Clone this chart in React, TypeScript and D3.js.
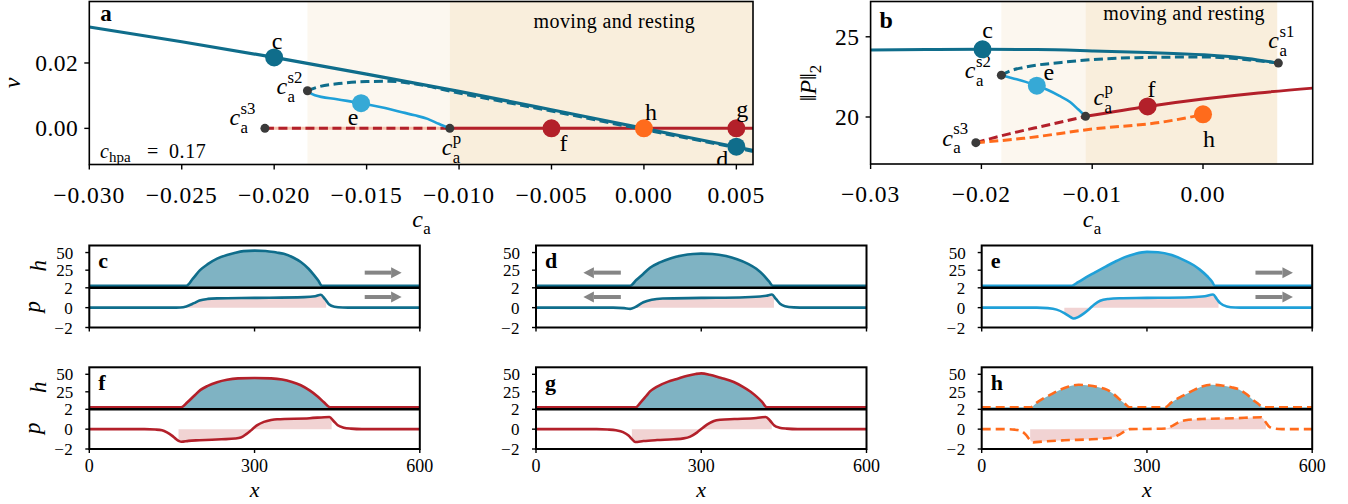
import * as d3 from 'd3'

type Pt = [number, number]

// ---------- panel a: drift velocity v against c_a ----------
const aXDomain: Pt = [-0.03, 0.0059]
const aYDomain: Pt = [-0.01105, 0.0388]
const aXTicks = [-0.03, -0.025, -0.02, -0.015, -0.01, -0.005, 0, 0.005]
const aYTicks = [0, 0.02]
const aShadeLight: Pt = [-0.0182, -0.0105]
const aShadeDark: Pt = [-0.0105, 0.0059]

const aMoving: Pt[] = [
  [-0.03, 0.031], [-0.025, 0.0265], [-0.02, 0.0217], [-0.015, 0.0166], [-0.01, 0.0113],
  [-0.005, 0.0057], [0, 0.0], [0.005, -0.0057], [0.0059, -0.0067],
]
const aMovingUnstable: Pt[] = [
  [-0.0182, 0.0115], [-0.0176, 0.0127], [-0.0165, 0.0137], [-0.015, 0.0143], [-0.0138, 0.0144],
  [-0.0125, 0.0137], [-0.01, 0.0108], [-0.005, 0.0053], [0, -0.0004], [0.005, -0.006], [0.0059, -0.0071],
]
const aAsym: Pt[] = [
  [-0.0182, 0.0113], [-0.0178, 0.0101], [-0.0166, 0.0089], [-0.0153, 0.0077], [-0.014, 0.0062],
  [-0.0132, 0.0051], [-0.0124, 0.004], [-0.0117, 0.0029], [-0.0111, 0.0014], [-0.0105, 0],
]
const aTwoDrop: Pt[] = [[-0.0205, 0], [0, 0]]
const aRestUnstable: Pt[] = [[-0.0205, 0], [-0.0105, 0]]
const aRestStable: Pt[] = [[-0.0105, 0], [0.0059, 0]]

const aMarkers: [string, number, number][] = [
  ['c', -0.02, 0.0217], ['e', -0.0153, 0.0077], ['f', -0.005, 0], ['h', 0, 0], ['g', 0.005, 0], ['d', 0.005, -0.0056],
]
const aBifPoints: [string, number, number][] = [['s2', -0.0182, 0.0115], ['s3', -0.0205, 0], ['p', -0.0105, 0]]

// ---------- panel b: ||P||_2 against c_a ----------
const bXDomain: Pt = [-0.03, 0.0099]
const bYDomain: Pt = [17.07, 27.2]
const bXTicks = [-0.03, -0.02, -0.01, 0]
const bYTicks = [20, 25]
const bShadeLight: Pt = [-0.0182, -0.0106]
const bShadeDark: Pt = [-0.0106, 0.0067]

const bMoving: Pt[] = [
  [-0.03, 24.17], [-0.025, 24.2], [-0.02, 24.22], [-0.015, 24.2], [-0.01, 24.12],
  [-0.005, 24.02], [0, 23.88], [0.004, 23.65], [0.0068, 23.36],
]
const bMovingUnstable: Pt[] = [
  [-0.0182, 22.61], [-0.0175, 22.85], [-0.0162, 23.09], [-0.0128, 23.4], [-0.006, 23.7],
  [0, 23.74], [0.0042, 23.56], [0.0068, 23.36],
]
const bAsym: Pt[] = [
  [-0.0182, 22.61], [-0.0172, 22.42], [-0.016, 22.19], [-0.015, 21.95], [-0.014, 21.68],
  [-0.013, 21.33], [-0.012, 20.93], [-0.0113, 20.5], [-0.0106, 20.04],
]
const bRestStable: Pt[] = [[-0.0106, 20.04], [-0.005, 20.66], [0, 21.12], [0.005, 21.5], [0.0099, 21.8]]
const bRestUnstable: Pt[] = [[-0.0205, 18.4], [-0.0175, 18.95], [-0.014, 19.5], [-0.0106, 20.04]]
const bTwoDrop: Pt[] = [[-0.0205, 18.4], [-0.0162, 18.67], [-0.01, 19.25], [-0.0039, 19.66], [0, 20.15]]

const bMarkers: [string, number, number][] = [['c', -0.0199, 24.22], ['e', -0.015, 21.95], ['f', -0.005, 20.66], ['h', 0, 20.17]]
const bBifPoints: [string, number, number][] = [['s1', 0.0068, 23.36], ['s2', -0.0182, 22.61], ['p', -0.0106, 20.04], ['s3', -0.0205, 18.4]]

// ---------- profiles c-h: height h(x) and polarisation p(x) ----------
const profXTicks = [0, 300, 600]
const profHTicks = [25, 50]
const profPTicks = [-2, 0, 2]

const hC: Pt[] = [[0, 3], [176, 3], [188, 13], [201, 25], [215, 33.5], [232, 41.3], [250, 46.5], [262, 49], [280, 52], [300, 52.8], [320, 52.3], [340, 50], [353, 48.2], [370, 43], [384, 36.5], [398, 27], [408, 18], [416, 10], [422, 3], [600, 3]]
const pC: Pt[] = [[0, 0], [150, 0], [165, 0.02], [176, 0.12], [190, 0.45], [200, 0.72], [215, 0.88], [232, 0.93], [300, 0.98], [390, 1.06], [410, 1.15], [420, 1.3], [428, 0.85], [435, 0.35], [445, 0.1], [460, 0.02], [480, 0], [600, 0]]

const hD: Pt[] = [[0, 3], [171, 3], [182, 11], [195, 20], [207, 28.5], [225, 36], [245, 42], [265, 45.8], [285, 48], [300, 48.5], [320, 48], [345, 45], [365, 40.5], [385, 34], [400, 27], [413, 18], [423, 9], [430, 3], [600, 3]]
const pD: Pt[] = [[0, 0], [140, 0], [160, -0.05], [171, -0.12], [180, 0.05], [195, 0.55], [210, 0.8], [230, 0.92], [300, 0.98], [380, 1.05], [418, 1.2], [428, 1.32], [436, 0.85], [443, 0.4], [452, 0.15], [468, 0.03], [490, 0], [600, 0]]

const hE: Pt[] = [[0, 3], [164, 3], [175, 8], [190, 15], [205, 21.5], [225, 30], [242, 37], [260, 43.5], [278, 48], [300, 51], [320, 50.5], [345, 46.5], [368, 39], [385, 32], [396, 25.8], [410, 16], [418, 9], [423, 3], [600, 3]]
const pE: Pt[] = [[0, 0], [100, 0], [120, -0.05], [136, -0.2], [150, -0.55], [160, -0.9], [167, -1.1], [175, -0.95], [185, -0.6], [195, -0.15], [205, 0.35], [215, 0.7], [230, 0.88], [250, 0.95], [300, 0.98], [380, 1.05], [405, 1.15], [420, 1.32], [427, 0.85], [433, 0.45], [445, 0.12], [460, 0.02], [480, 0], [600, 0]]

const hF: Pt[] = [[0, 3], [167, 3], [178, 10], [190, 19], [202, 27.7], [215, 33.5], [232, 38.8], [250, 42.3], [270, 44.2], [300, 44.8], [330, 44.2], [350, 42.5], [368, 39], [384, 34.4], [400, 27], [414, 18.7], [426, 10], [437, 3], [600, 3]]
const pF: Pt[] = [[0, 0], [100, 0], [120, -0.04], [132, -0.12], [141, -0.33], [150, -0.65], [156, -0.93], [163, -1.2], [167, -1.27], [180, -1.18], [200, -1.12], [240, -1.02], [265, -0.95], [275, -0.85], [285, -0.5], [295, -0.05], [305, 0.4], [317, 0.73], [330, 0.92], [341, 1.0], [400, 1.1], [436, 1.23], [443, 0.85], [451, 0.4], [462, 0.15], [475, 0.05], [495, 0], [600, 0]]

const hG: Pt[] = [[0, 3], [181, 3], [190, 10], [200, 19], [207, 25.5], [220, 32.5], [240, 39.5], [256, 43.4], [275, 48], [290, 50.5], [300, 51.3], [315, 49.5], [335, 45], [359, 39], [375, 32.5], [389, 25.5], [400, 18.5], [410, 11], [419, 3], [600, 3]]
const pG: Pt[] = [[0, 0], [110, 0], [130, -0.04], [145, -0.12], [158, -0.3], [168, -0.65], [175, -1.05], [180, -1.3], [195, -1.2], [220, -1.1], [250, -1.02], [268, -0.93], [280, -0.75], [292, -0.35], [305, 0.23], [315, 0.6], [323, 0.83], [335, 0.95], [360, 1.02], [400, 1.12], [417, 1.23], [425, 0.85], [432, 0.4], [442, 0.15], [455, 0.05], [475, 0], [600, 0]]

const hH: Pt[] = [[0, 3], [89, 3], [100, 9.5], [112, 15.5], [124, 20.5], [140, 27], [158, 32.5], [176, 35], [195, 34], [212, 31.5], [227, 28], [240, 21.5], [251, 13.7], [260, 8], [268, 3], [333, 3], [344, 9.5], [356, 15.5], [368, 20.5], [384, 27], [400, 32.5], [417, 35], [436, 34], [453, 31.5], [468, 28], [481, 21.5], [492, 13.7], [502, 8], [510, 3], [600, 3]]
const pH: Pt[] = [[0, 0], [45, 0], [60, -0.05], [72, -0.2], [80, -0.55], [87, -1.05], [94, -1.33], [110, -1.25], [150, -1.12], [200, -1.02], [238, -0.85], [250, -0.55], [260, -0.2], [269, 0], [300, 0.02], [335, 0.07], [345, 0.3], [353, 0.55], [359, 0.73], [370, 0.9], [400, 1.02], [460, 1.1], [508, 1.2], [515, 0.75], [522, 0.25], [530, 0.08], [545, 0], [600, 0]]

// x-range of the shaded p area and arrow (from, to) in x units
const pinkC: Pt = [176, 430]
const pinkD: Pt = [172, 432]
const pinkE: Pt = [150, 430]
const pinkF: Pt = [162, 440]
const pinkG: Pt = [174, 428]
const pinkH: Pt = [88, 516]
const arrowC: Pt = [500, 567]
const arrowD: Pt = [154, 86]
const arrowE: Pt = [497, 565]

// ---------- styling ----------
const SERIF = '"Liberation Serif", "Times New Roman", serif'
const BLUE = '#0f6d8b'
const LIGHTBLUE = '#1fa0d8'
const LIGHTBLUE_MK = '#36a9d6'
const RED = '#b3202a'
const ORANGE = '#ff6b1c'
const DOT = '#3a3a3a'
const SHADE_L = '#fcf7ef'
const SHADE_D = '#f9eedc'
const H_FILL = '#7fb3c3'
const P_FILL = '#f1d3d3'
const ARROW = '#858585'

const A = { left: 89.3, right: 753, top: 1.5, bottom: 164.5 }
const B = { left: 870.6, right: 1312.7, top: 1.5, bottom: 164 }
const colLeft = [89.3, 536, 981.7]
const colW = 330.5
const rows = [
  { top: 245.5, mid: 287.8, bottom: 327.5 },
  { top: 367.3, mid: 409.3, bottom: 449 },
]

const minus = (s: string) => s.replace('-', '\u2212')
const fmt3 = (d: number) => minus(Math.abs(d) < 1e-12 ? '0.000' : d.toFixed(3))
const fmt2 = (d: number) => minus(Math.abs(d) < 1e-12 ? '0.00' : d.toFixed(2))

function CaLabel({ x, y, sup, size = 24 }: { x: number; y: number; sup?: string; size?: number }) {
  const s = size * 0.7
  return (
    <g fontFamily={SERIF} fill="#000">
      <text x={x} y={y} fontSize={size} fontStyle="italic">c</text>
      {sup && <text x={x + size * 0.46} y={y - size * 0.48} fontSize={s}>{sup}</text>}
      <text x={x + size * 0.46} y={y + size * 0.31} fontSize={s}>a</text>
    </g>
  )
}

function BifPanel(props: {
  box: typeof A
  xDomain: Pt
  yDomain: Pt
  xTicks: number[]
  yTicks: number[]
  xFmt: (d: number) => string
  yFmt: (d: number) => string
  id: string
  children: (x: d3.ScaleLinear<number, number>, y: d3.ScaleLinear<number, number>) => React.ReactNode
}) {
  const { box, id } = props
  const x = d3.scaleLinear().domain(props.xDomain).range([box.left, box.right])
  const y = d3.scaleLinear().domain(props.yDomain).range([box.bottom, box.top])
  return (
    <g>
      <defs>
        <clipPath id={id}>
          <rect x={box.left} y={box.top} width={box.right - box.left} height={box.bottom - box.top} />
        </clipPath>
      </defs>
      <g clipPath={`url(#${id})`}>{props.children(x, y)}</g>
      <rect x={box.left} y={box.top} width={box.right - box.left} height={box.bottom - box.top} fill="none" stroke="#000" strokeWidth={1.6} />
      {props.xTicks.map((t) => (
        <g key={t}>
          <line x1={x(t)} x2={x(t)} y1={box.bottom} y2={box.bottom + 5} stroke="#000" strokeWidth={1.4} />
          <text x={x(t)} y={box.bottom + 38} textAnchor="middle" fontFamily={SERIF} fontSize={23.5} letterSpacing={1}>
            {props.xFmt(t)}
          </text>
        </g>
      ))}
      {props.yTicks.map((t) => (
        <g key={t}>
          <line x1={box.left - 5} x2={box.left} y1={y(t)} y2={y(t)} stroke="#000" strokeWidth={1.4} />
          <text x={box.left - 11} y={y(t) + 8} textAnchor="end" fontFamily={SERIF} fontSize={23.5} letterSpacing={0.5}>
            {props.yFmt(t)}
          </text>
        </g>
      ))}
    </g>
  )
}

function Marker({ cx, cy, color, r = 9 }: { cx: number; cy: number; color: string; r?: number }) {
  return <circle cx={cx} cy={cy} r={r} fill={color} />
}

function PanelA() {
  const markerColor: Record<string, string> = { c: BLUE, d: BLUE, e: LIGHTBLUE_MK, f: RED, g: RED, h: ORANGE }
  // label offsets (pixels) for the branch point letters
  const letterOff: Record<string, Pt> = { c: [3, -8], e: [-8, 22], f: [12, 23], h: [7, -8], g: [6, -11], d: [-14, 20] }
  const bifOff: Record<string, Pt> = { s2: [-31, 3.5], s3: [-35.5, -3], p: [-8, 27] }
  return (
    <BifPanel box={A} id="clipA" xDomain={aXDomain} yDomain={aYDomain} xTicks={aXTicks} yTicks={aYTicks} xFmt={fmt3} yFmt={fmt2}>
      {(x, y) => {
        const line = d3.line<Pt>().x((d) => x(d[0])).y((d) => y(d[1])).curve(d3.curveMonotoneX)
        return (
          <g>
            <rect x={x(aShadeLight[0])} y={A.top} width={x(aShadeLight[1]) - x(aShadeLight[0])} height={A.bottom - A.top} fill={SHADE_L} />
            <rect x={x(aShadeDark[0])} y={A.top} width={x(aShadeDark[1]) - x(aShadeDark[0])} height={A.bottom - A.top} fill={SHADE_D} />
            <text x={x(-0.0016)} y={28} textAnchor="middle" fontFamily={SERIF} fontSize={20} letterSpacing={0.4}>moving and resting</text>
            <text x={A.left + 11} y={21} fontFamily={SERIF} fontSize={23} fontWeight="bold">a</text>
            <path d={line(aTwoDrop)!} fill="none" stroke="#f6c3ae" strokeWidth={3} />
            <path d={line(aRestUnstable)!} fill="none" stroke={RED} strokeWidth={3} strokeDasharray="9,4.5" />
            <path d={line(aRestStable)!} fill="none" stroke={RED} strokeWidth={3} />
            <path d={line(aMoving)!} fill="none" stroke={BLUE} strokeWidth={3.2} />
            <path d={line(aMovingUnstable)!} fill="none" stroke={BLUE} strokeWidth={3} strokeDasharray="9,4.5" />
            <path d={line(aAsym)!} fill="none" stroke={LIGHTBLUE} strokeWidth={2.6} />
            {aBifPoints.map(([k, cx, cy]) => (
              <g key={k}>
                <circle cx={x(cx)} cy={y(cy)} r={4.5} fill={DOT} />
                <CaLabel x={x(cx) + bifOff[k][0]} y={y(cy) + bifOff[k][1]} sup={k} />
              </g>
            ))}
            {aMarkers.map(([k, cx, cy]) => (
              <g key={k}>
                <Marker cx={x(cx)} cy={y(cy)} color={markerColor[k]} />
                <text x={x(cx) + letterOff[k][0]} y={y(cy) + letterOff[k][1]} textAnchor="middle" fontFamily={SERIF} fontSize={24}>{k}</text>
              </g>
            ))}
            <g fontFamily={SERIF}>
              <text x={100} y={158} fontSize={20} fontStyle="italic">c</text>
              <text x={109} y={161.5} fontSize={15}>hpa</text>
              <text x={147} y={158} fontSize={20}>=</text>
              <text x={169} y={158} fontSize={20} letterSpacing={0.6}>0.17</text>
            </g>
          </g>
        )
      }}
    </BifPanel>
  )
}

function PanelB() {
  const markerColor: Record<string, string> = { c: BLUE, e: LIGHTBLUE_MK, f: RED, h: ORANGE }
  const letterOff: Record<string, Pt> = { c: [5, -11], e: [12, -6], f: [4, -9], h: [6, 33] }
  const bifOff: Record<string, Pt> = { s1: [-10, -15], s2: [-36.5, 3], p: [8, -11], s3: [-33.6, 3] }
  return (
    <BifPanel box={B} id="clipB" xDomain={bXDomain} yDomain={bYDomain} xTicks={bXTicks} yTicks={bYTicks} xFmt={fmt2} yFmt={(d) => String(d)}>
      {(x, y) => {
        const line = d3.line<Pt>().x((d) => x(d[0])).y((d) => y(d[1])).curve(d3.curveMonotoneX)
        return (
          <g>
            <rect x={x(bShadeLight[0])} y={B.top} width={x(bShadeLight[1]) - x(bShadeLight[0])} height={B.bottom - B.top} fill={SHADE_L} />
            <rect x={x(bShadeDark[0])} y={B.top} width={x(bShadeDark[1]) - x(bShadeDark[0])} height={B.bottom - B.top} fill={SHADE_D} />
            <text x={x(-0.0017)} y={19.5} textAnchor="middle" fontFamily={SERIF} fontSize={20} letterSpacing={0.4}>moving and resting</text>
            <text x={B.left + 9} y={28} fontFamily={SERIF} fontSize={24} fontWeight="bold">b</text>
            <path d={line(bMoving)!} fill="none" stroke={BLUE} strokeWidth={3} />
            <path d={line(bMovingUnstable)!} fill="none" stroke={BLUE} strokeWidth={3} strokeDasharray="9,4.5" />
            <path d={line(bAsym)!} fill="none" stroke={LIGHTBLUE} strokeWidth={2.6} />
            <path d={line(bRestUnstable)!} fill="none" stroke={RED} strokeWidth={3} strokeDasharray="9,4.5" />
            <path d={line(bRestStable)!} fill="none" stroke={RED} strokeWidth={3} />
            <path d={line(bTwoDrop)!} fill="none" stroke={ORANGE} strokeWidth={3} strokeDasharray="9,4.5" />
            {bBifPoints.map(([k, cx, cy]) => (
              <g key={k}>
                <circle cx={x(cx)} cy={y(cy)} r={4.5} fill={DOT} />
                <CaLabel x={x(cx) + bifOff[k][0]} y={y(cy) + bifOff[k][1]} sup={k} />
              </g>
            ))}
            {bMarkers.map(([k, cx, cy]) => (
              <g key={k}>
                <Marker cx={x(cx)} cy={y(cy)} color={markerColor[k]} />
                <text x={x(cx) + letterOff[k][0]} y={y(cy) + letterOff[k][1]} textAnchor="middle" fontFamily={SERIF} fontSize={24}>{k}</text>
              </g>
            ))}
          </g>
        )
      }}
    </BifPanel>
  )
}

type ProfileSpec = {
  id: string
  col: number
  row: number
  h: Pt[]
  p: Pt[]
  color: string
  dashed: boolean
  pink: Pt
  arrow?: Pt
}

const profiles: ProfileSpec[] = [
  { id: 'c', col: 0, row: 0, h: hC, p: pC, color: BLUE, dashed: false, pink: pinkC, arrow: arrowC },
  { id: 'd', col: 1, row: 0, h: hD, p: pD, color: BLUE, dashed: false, pink: pinkD, arrow: arrowD },
  { id: 'e', col: 2, row: 0, h: hE, p: pE, color: LIGHTBLUE, dashed: false, pink: pinkE, arrow: arrowE },
  { id: 'f', col: 0, row: 1, h: hF, p: pF, color: RED, dashed: false, pink: pinkF },
  { id: 'g', col: 1, row: 1, h: hG, p: pG, color: RED, dashed: false, pink: pinkG },
  { id: 'h', col: 2, row: 1, h: hH, p: pH, color: ORANGE, dashed: true, pink: pinkH },
]

function Arrow({ x0, x1, y }: { x0: number; x1: number; y: number }) {
  const dir = Math.sign(x1 - x0)
  const hl = 10.5
  const hw = 5.5
  return (
    <g fill={ARROW}>
      <line x1={x0} x2={x1 - dir * hl} y1={y} y2={y} stroke={ARROW} strokeWidth={4} />
      <polygon points={`${x1},${y} ${x1 - dir * hl},${y - hw} ${x1 - dir * hl},${y + hw}`} />
    </g>
  )
}

function ProfilePanel({ spec }: { spec: ProfileSpec }) {
  const left = colLeft[spec.col]
  const right = left + colW
  const { top, mid, bottom } = rows[spec.row]
  const x = d3.scaleLinear().domain([0, 600]).range([left, right])
  const yh = d3.scaleLinear().domain([0, 60]).range([mid, top])
  const yp = d3.scaleLinear().domain([-2, 2]).range([bottom, mid])
  const hLine = d3.line<Pt>().x((d) => x(d[0])).y((d) => yh(d[1])).curve(d3.curveMonotoneX)
  const hArea = d3.area<Pt>().x((d) => x(d[0])).y0(yh(0)).y1((d) => yh(d[1])).curve(d3.curveMonotoneX)
  const pLine = d3.line<Pt>().x((d) => x(d[0])).y((d) => yp(d[1])).curve(d3.curveMonotoneX)
  const pArea = d3.area<Pt>().x((d) => x(d[0])).y0(yp(0)).y1((d) => yp(d[1])).curve(d3.curveMonotoneX)
  const dash = spec.dashed ? '9,5' : undefined
  const lw = 2.6
  const bottomRow = spec.row === 1
  const tickFs = 17
  return (
    <g>
      <defs>
        <clipPath id={`ch-${spec.id}`}>
          <rect x={left} y={top} width={colW} height={mid - top} />
        </clipPath>
        <clipPath id={`cp-${spec.id}`}>
          <rect x={left} y={mid} width={colW} height={bottom - mid} />
        </clipPath>
        <clipPath id={`pk-${spec.id}`}>
          <rect x={x(spec.pink[0])} y={mid} width={x(spec.pink[1]) - x(spec.pink[0])} height={bottom - mid} />
        </clipPath>
      </defs>
      <g clipPath={`url(#ch-${spec.id})`}>
        <path d={hArea(spec.h)!} fill={H_FILL} />
        <path d={hLine(spec.h)!} fill="none" stroke={spec.color} strokeWidth={lw} strokeDasharray={dash} />
      </g>
      <g clipPath={`url(#cp-${spec.id})`}>
        <path d={pArea(spec.p)!} fill={P_FILL} clipPath={`url(#pk-${spec.id})`} />
        <path d={pLine(spec.p)!} fill="none" stroke={spec.color} strokeWidth={lw} strokeDasharray={dash} />
      </g>
      {spec.arrow && (
        <g>
          <Arrow x0={x(spec.arrow[0])} x1={x(spec.arrow[1])} y={yh(21.5)} />
          <Arrow x0={x(spec.arrow[0])} x1={x(spec.arrow[1])} y={yp(1.07)} />
        </g>
      )}
      <rect x={left} y={top} width={colW} height={bottom - top} fill="none" stroke="#000" strokeWidth={2} />
      <line x1={left} x2={right} y1={mid} y2={mid} stroke="#000" strokeWidth={2.6} />
      <text x={left + 9} y={top + 22.5} fontFamily={SERIF} fontSize={22} fontWeight="bold">{spec.id}</text>
      <g fontFamily={SERIF} fontSize={tickFs}>
        {profHTicks.map((t) => (
          <g key={`h${t}`}>
            <line x1={left - 4} x2={left} y1={yh(t)} y2={yh(t)} stroke="#000" strokeWidth={1.4} />
            <text x={left - 16} y={yh(t) + 6} textAnchor="end">{t}</text>
          </g>
        ))}
        {profPTicks.map((t) => (
          <g key={`p${t}`}>
            <line x1={left - 4} x2={left} y1={yp(t)} y2={yp(t)} stroke="#000" strokeWidth={1.4} />
            <text x={left - 16} y={yp(t) + 6} textAnchor="end" letterSpacing={0.5}>{minus(String(t))}</text>
          </g>
        ))}
        {profXTicks.map((t) => (
          <g key={`x${t}`}>
            <line x1={x(t)} x2={x(t)} y1={bottom} y2={bottom + 4} stroke="#000" strokeWidth={1.4} />
            {bottomRow && (
              <text x={x(t)} y={bottom + 23} textAnchor="middle" fontSize={18}>{t}</text>
            )}
          </g>
        ))}
      </g>
      {bottomRow && (
        <text x={(left + right) / 2} y={497} textAnchor="middle" fontFamily={SERIF} fontSize={22} fontStyle="italic">x</text>
      )}
      {spec.col === 0 && (
        <g fontFamily={SERIF} fontSize={23} fontStyle="italic">
          <text transform={`translate(${45.5},${(top + mid) / 2 - 1}) rotate(-90)`} textAnchor="middle">h</text>
          <text transform={`translate(${40},${(mid + bottom) / 2 - 1}) rotate(-90)`} textAnchor="middle">p</text>
        </g>
      )}
    </g>
  )
}

export default function App() {
  return (
    <svg
      width={1348}
      height={504}
      viewBox="0 0 1348 504"
      style={{ position: 'fixed', left: 0, top: 0, background: '#fff' }}
    >
      <rect width={1348} height={504} fill="#fff" />
      <PanelA />
      <PanelB />
      {/* axis labels of the two bifurcation panels */}
      <text transform="translate(20,83) rotate(-90)" textAnchor="middle" fontFamily={SERIF} fontSize={24} fontStyle="italic">v</text>
      <text transform="translate(816,83) rotate(-90)" textAnchor="middle" fontFamily={SERIF} fontSize={24}>
        <tspan>‖</tspan>
        <tspan fontStyle="italic">P</tspan>
        <tspan>‖</tspan>
        <tspan fontSize={17} dy={5}>2</tspan>
      </text>
      <CaLabel x={(A.left + A.right) / 2 - 9} y={227} />
      <CaLabel x={(B.left + B.right) / 2 - 9} y={227} />
      {profiles.map((s) => (
        <ProfilePanel key={s.id} spec={s} />
      ))}
    </svg>
  )
}
